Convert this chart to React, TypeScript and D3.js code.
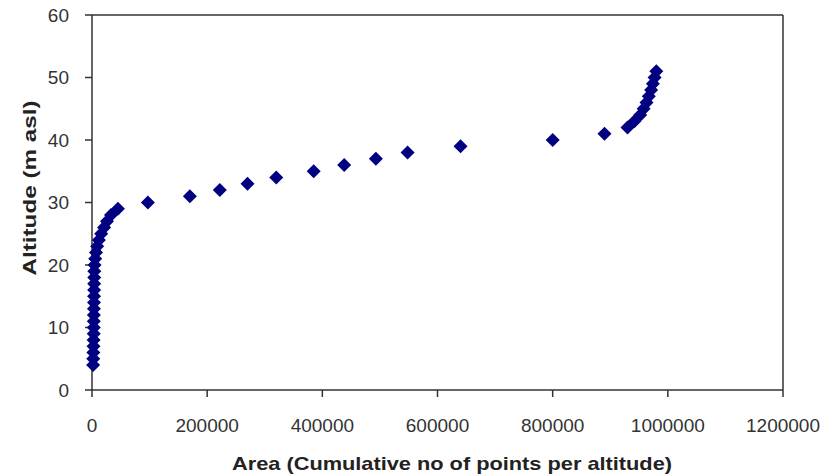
import React from "react";
import * as d3 from "d3";

const altitudes = [4,5,6,7,8,9,10,11,12,13,14,15,16,17,18,19,20,21,22,23,24,25,26,27,28,29,30,31,32,33,34,35,36,37,38,39,40,41,42,43,44,45,46,47,48,49,50,51];
const areas = [2000,2200,2400,2600,2800,3000,3100,3200,3300,3400,3500,3600,3700,3800,3900,4000,4500,5500,7000,9000,12000,16000,21000,26000,33000,45000,97000,170000,222000,270000,320000,385000,438000,493000,548000,640000,800000,890000,930000,942000,952000,958000,963000,967000,971000,974000,977000,980000];
const xTicks = [0,200000,400000,600000,800000,1000000,1200000];
const yTicks = [0,10,20,30,40,50,60];

export default function App() {
  const W = 826, H = 475;
  const L = 92, R = 783, T = 15, B = 390;
  const x = d3.scaleLinear().domain([0, 1200000]).range([L, R]);
  const y = d3.scaleLinear().domain([0, 60]).range([B, T]);
  const font = "'Liberation Sans', Arial, sans-serif";
  const axisColor = "#333";
  return (
    <svg width={W} height={H} style={{ position: "absolute", left: 0, top: 0 }}>
      <rect x={0} y={0} width={W} height={H} fill="#fff" />
      <line x1={L} y1={T} x2={R} y2={T} stroke={axisColor} strokeWidth={1.5} />
      <line x1={R} y1={T} x2={R} y2={B} stroke={axisColor} strokeWidth={1.5} />
      <line x1={L} y1={T} x2={L} y2={B} stroke={axisColor} strokeWidth={1.5} />
      <line x1={L} y1={B} x2={R} y2={B} stroke={axisColor} strokeWidth={1.5} />
      {yTicks.map((t) => (
        <g key={"y" + t}>
          <line x1={L - 7} x2={L} y1={y(t)} y2={y(t)} stroke={axisColor} strokeWidth={1.5} />
          <text x={L - 23} y={y(t)} dy="0.35em" textAnchor="end" fontFamily={font} fontSize={19} fill="#333">{t}</text>
        </g>
      ))}
      {xTicks.map((t) => (
        <g key={"x" + t}>
          <line x1={x(t)} x2={x(t)} y1={B} y2={B + 7} stroke={axisColor} strokeWidth={1.5} />
          <text x={x(t)} y={425} dy="0.35em" textAnchor="middle" fontFamily={font} fontSize={19} fill="#333">{t}</text>
        </g>
      ))}
      <text x={452} y={463} dy="0.35em" textAnchor="middle" fontFamily={font} fontSize={19} fontWeight="bold" fill="#222" textLength={440} lengthAdjust="spacingAndGlyphs">Area (Cumulative no of points per altitude)</text>
      <text transform={`translate(29, 188) rotate(-90)`} dy="0.35em" textAnchor="middle" fontFamily={font} fontSize={19} fontWeight="bold" fill="#222" textLength={175} lengthAdjust="spacingAndGlyphs">Altitude (m asl)</text>
      {altitudes.map((a, i) => {
        const cx = x(areas[i]);
        const cy = y(a);
        const r = 7;
        return <path key={"p" + i} d={`M${cx},${cy - r}L${cx + r},${cy}L${cx},${cy + r}L${cx - r},${cy}Z`} fill="#000080" />;
      })}
    </svg>
  );
}
